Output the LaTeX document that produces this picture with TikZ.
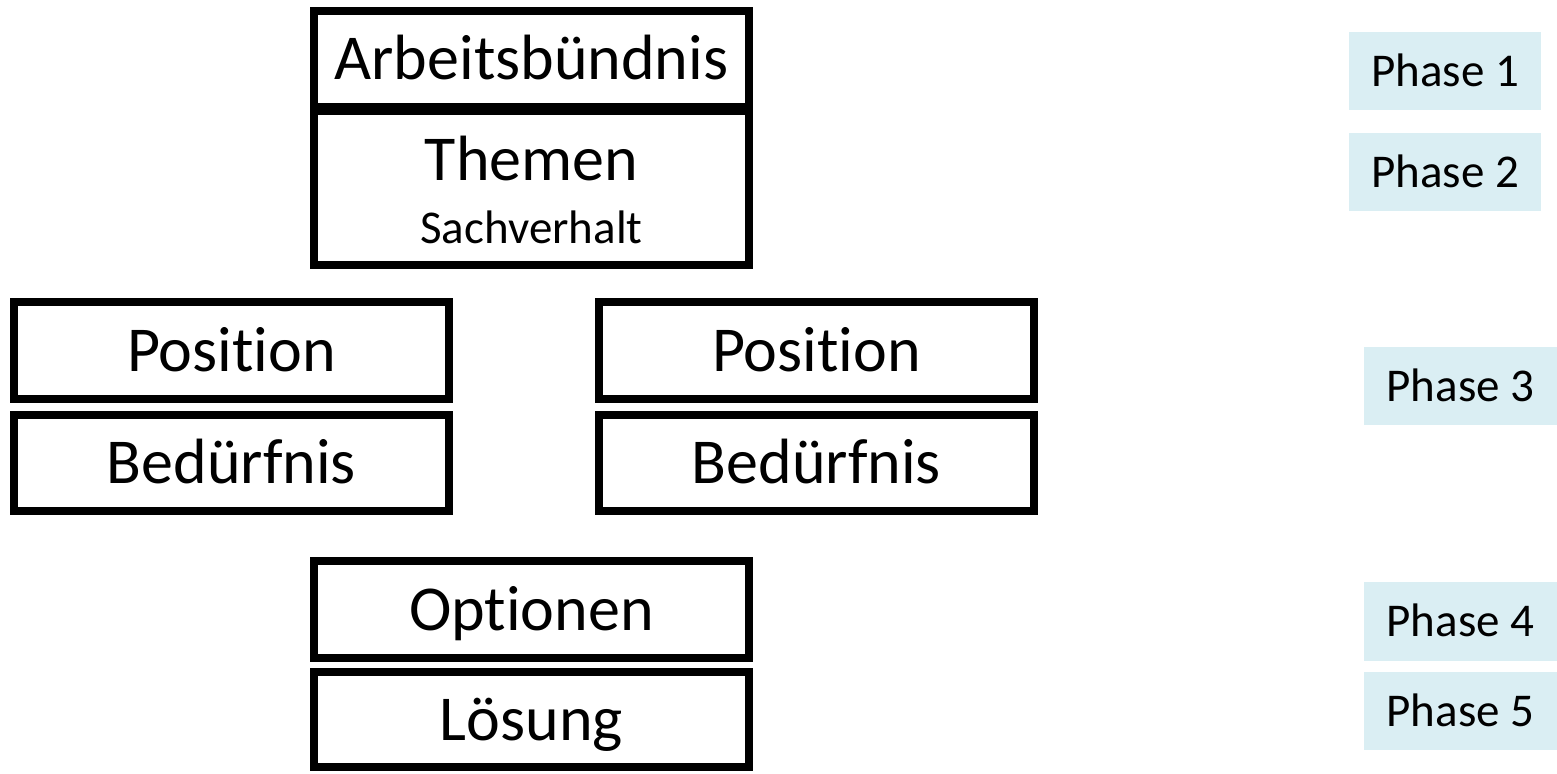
\documentclass[tikz,border=0pt]{standalone}
\usepackage{fontspec}
\setmainfont{Carlito}[Ligatures={NoCommon}]
\definecolor{phasebg}{HTML}{DAEEF3}
\begin{document}
\begin{tikzpicture}[x=0.5pt,y=-0.5pt,
  box/.style={draw=black, line width=4pt, fill=white, inner sep=0pt, outer sep=0pt,
    font=\fontsize{32}{38}\selectfont, text height=20.6pt, text depth=0pt, minimum width=217.5pt},
  phase/.style={fill=phasebg, inner sep=0pt, outer sep=0pt,
    font=\fontsize{23.5}{28}\selectfont, text height=15.1pt, text depth=0pt, minimum height=39pt},
  lbl/.style={inner sep=0pt, anchor=base}]
\useasboundingbox (0,0) rectangle (1557,773);
% left column of boxes
\node[box, minimum height=48pt] (arb) at (531.5,59) {Arbeitsbündnis};
\node[box, minimum height=77pt] (them) at (531.5,188) {};
\node[lbl, font=\fontsize{32}{38}\selectfont] (themT) at (531.5,180) {Themen};
\node[lbl, font=\fontsize{23.5}{28}\selectfont] (themS) at (531.5,243) {Sachverhalt};
\node[box, minimum height=48.5pt] (pos1) at (231.5,350.5) {Position};
\node[box, minimum height=48pt] (bed1) at (231.5,463) {Bedürfnis};
\node[box, minimum height=48.5pt] (pos2) at (816.5,350.5) {Position};
\node[box, minimum height=48pt] (bed2) at (816.5,463) {Bedürfnis};
\node[box, minimum height=48.5pt] (opt) at (531.5,609.5) {Optionen};
\node[box, minimum height=47.5pt] (los) at (531.5,719.5) {Lösung};
% phases
\node[phase, minimum width=96pt] (p1) at (1445,71) {Phase 1};
\node[phase, minimum width=96pt] (p2) at (1445,172) {Phase 2};
\node[phase, minimum width=96.5pt] (p3) at (1460.5,386) {Phase 3};
\node[phase, minimum width=96.5pt, minimum height=39.5pt] (p4) at (1460.5,621.5) {Phase 4};
\node[phase, minimum width=96.5pt] (p5) at (1460.5,711) {Phase 5};
\end{tikzpicture}
\end{document}
